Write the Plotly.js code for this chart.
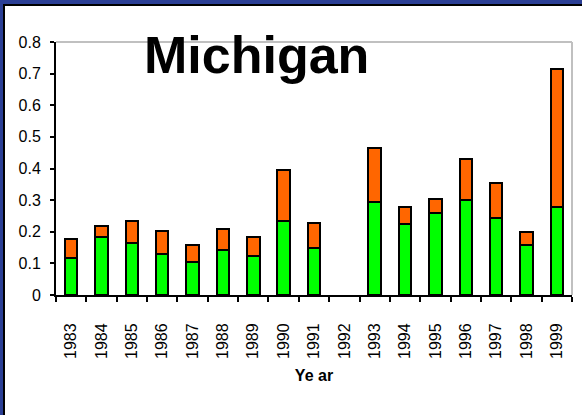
<!DOCTYPE html>
<html>
<head>
<meta charset="utf-8">
<script src="https://cdn.plot.ly/plotly-3.0.1.min.js"></script>
<style>
html,body{margin:0;padding:0;background:#fff;}
#wrap{position:relative;width:582px;height:415px;overflow:hidden;}
#chart{position:absolute;left:0;top:0;width:582px;height:415px;}
.b{position:absolute;pointer-events:none;}
</style>
</head>
<body>
<div id="wrap">
<div id="chart"></div>
<div class="b" style="left:0;top:0;width:582px;height:4px;background:#2b3f95;"></div>
<div class="b" style="left:0;top:0;width:3px;height:415px;background:#2b3f95;"></div>
<div class="b" style="left:3px;top:4px;width:579px;height:2px;background:#000;"></div>
<div class="b" style="left:3px;top:4px;width:2px;height:411px;background:#000;"></div>
</div>
<script>
var years = ["1983","1984","1985","1986","1987","1988","1989","1990","1991","1992","1993","1994","1995","1996","1997","1998","1999"];
var greenVals = [0.116,0.182,0.165,0.131,0.105,0.142,0.124,0.234,0.150,null,0.293,0.226,0.258,0.300,0.242,0.158,0.277];
var orangeVals = [0.060,0.036,0.069,0.071,0.052,0.068,0.060,0.161,0.077,null,0.171,0.051,0.044,0.129,0.111,0.042,0.437];
var yTicks = [0,0.1,0.2,0.3,0.4,0.5,0.6,0.7,0.8];
var yTickText = ["0","0.1","0.2","0.3","0.4","0.5","0.6","0.7","0.8"];

var traces = [
  {type:"bar", x:years, y:greenVals, marker:{color:"#00ff00", line:{color:"#000", width:2}}, hoverinfo:"none"},
  {type:"bar", x:years, y:orangeVals, marker:{color:"#ff6600", line:{color:"#000", width:2}}, hoverinfo:"none"}
];
var layout = {
  width:582, height:415,
  margin:{l:56, r:10, t:42, b:120},
  paper_bgcolor:"#fff", plot_bgcolor:"#fff",
  barmode:"stack", bargap:0.59,
  showlegend:false,
  font:{family:"Arial, Liberation Sans, sans-serif", color:"#000"},
  xaxis:{
    type:"category", tickson:"boundaries", ticks:"outside", ticklen:5, tickwidth:2, tickcolor:"#000",
    showline:true, linecolor:"#000", linewidth:2, showgrid:false, zeroline:false,
    tickangle:-90, ticklabelstandoff:20, tickfont:{size:16, family:"Arial, Liberation Sans, sans-serif"},
    title:{text:"Ye ar", font:{size:16, family:"Liberation Sans Narrow, Arial Narrow, Arial, sans-serif", weight:"bold"}, standoff:12}
  },
  yaxis:{
    range:[0,0.8], tickvals:yTicks, ticktext:yTickText, ticks:"outside", ticklen:4, tickwidth:2, tickcolor:"#000",
    showline:true, linecolor:"#000", linewidth:2, showgrid:false, zeroline:false,
    ticklabelstandoff:6, tickfont:{size:16}
  },
  shapes:[
    {type:"line", xref:"paper", yref:"paper", x0:0, x1:1, y0:1, y1:1, line:{color:"#c0c0c0", width:2}},
    {type:"line", xref:"paper", yref:"paper", x0:1, x1:1, y0:0, y1:1, line:{color:"#c0c0c0", width:2}}
  ],
  annotations:[
    {text:"<b>Michigan</b>", xref:"paper", yref:"paper", x:0.3886, y:0.95, xanchor:"center", yanchor:"middle", showarrow:false, font:{size:52, family:"Arial, Liberation Sans, sans-serif", color:"#000"}}
  ]
};
Plotly.newPlot("chart", traces, layout, {displayModeBar:false, staticPlot:true});
</script>
</body>
</html>
